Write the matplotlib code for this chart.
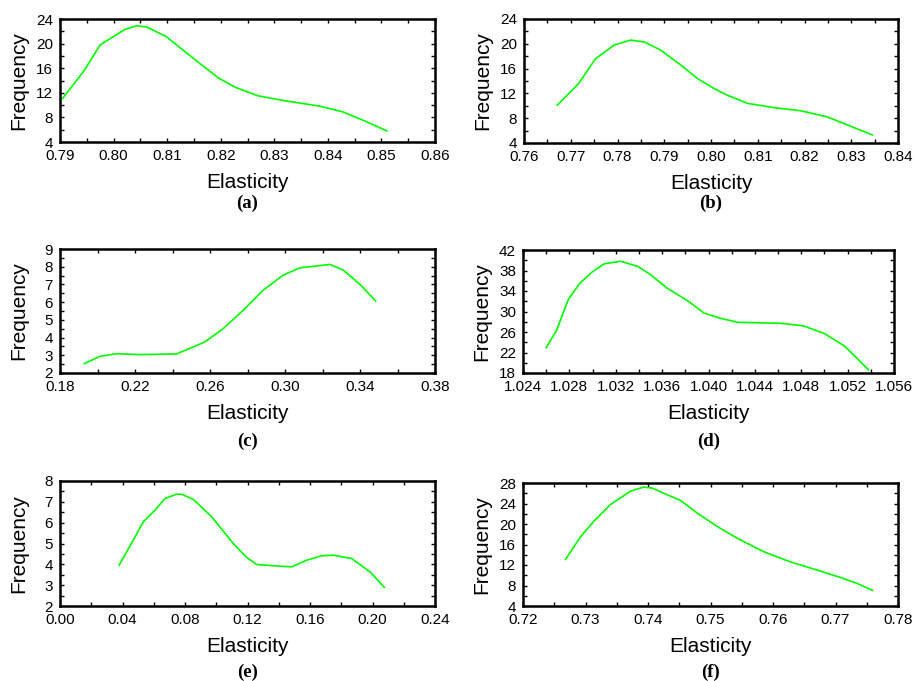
import matplotlib
matplotlib.use("Agg")
import matplotlib.pyplot as plt
from matplotlib.ticker import AutoMinorLocator

plt.rcParams['font.family'] = ['Liberation Sans', 'DejaVu Sans']

# (a)
a_x = [0.7905, 0.7945, 0.7975, 0.8021, 0.8043, 0.8062, 0.8099, 0.8133, 0.8165, 0.8196,
       0.8227, 0.8270, 0.8320, 0.8384, 0.8428, 0.8472, 0.8510]
a_y = [11.1, 15.6, 19.8, 22.3, 22.9, 22.7, 21.1, 18.7, 16.5, 14.4,
       12.9, 11.5, 10.7, 9.85, 8.9, 7.3, 5.8]
# (b)
b_x = [0.7671, 0.7717, 0.7753, 0.7793, 0.7828, 0.7857, 0.7892, 0.7935, 0.7971, 0.8006,
       0.8035, 0.8078, 0.8135, 0.8192, 0.8249, 0.8299, 0.8345]
b_y = [10.1, 13.6, 17.6, 19.8, 20.6, 20.3, 19.0, 16.6, 14.4, 12.8,
       11.7, 10.4, 9.7, 9.2, 8.2, 6.7, 5.3]
# (c)
c_x = [0.193, 0.2013, 0.2102, 0.2227, 0.2333, 0.2422, 0.2511, 0.2573, 0.2671, 0.2778,
       0.2884, 0.2991, 0.308, 0.3133, 0.324, 0.3311, 0.340, 0.3484]
c_y = [2.53, 2.94, 3.09, 3.04, 3.06, 3.08, 3.47, 3.76, 4.51, 5.55,
       6.68, 7.53, 7.94, 8.0, 8.13, 7.81, 7.0, 6.06]
# (d)
d_x = [1.0260, 1.0269, 1.0279, 1.0289, 1.0299, 1.0310, 1.0324, 1.0339, 1.0350, 1.0364,
       1.0382, 1.0396, 1.0410, 1.0425, 1.0442, 1.0462, 1.0482, 1.0500, 1.0517, 1.0528, 1.0538]
d_y = [22.96, 26.35, 32.3, 35.5, 37.6, 39.3, 39.8, 38.8, 37.2, 34.6,
       32.1, 29.7, 28.7, 27.9, 27.8, 27.7, 27.2, 25.7, 23.3, 20.9, 18.6]
# (e)
e_x = [0.0378, 0.0469, 0.0533, 0.0608, 0.0672, 0.0747, 0.0779, 0.0853, 0.0971, 0.1109,
       0.1195, 0.1259, 0.1387, 0.1483, 0.1579, 0.1675, 0.1749, 0.1866, 0.1984, 0.2075]
e_y = [3.96, 5.16, 6.04, 6.6, 7.16, 7.37, 7.36, 7.12, 6.28, 5.0,
       4.33, 3.99, 3.92, 3.88, 4.2, 4.41, 4.44, 4.28, 3.64, 2.9]
# (f)
f_x = [0.7268, 0.7292, 0.7313, 0.7340, 0.7372, 0.7393, 0.7407, 0.7425, 0.7452, 0.7479,
       0.7511, 0.7543, 0.7585, 0.7628, 0.7671, 0.7708, 0.7735, 0.7759]
f_y = [13.09, 17.5, 20.5, 23.8, 26.4, 27.2, 27.0, 26.0, 24.6, 22.1,
       19.5, 17.2, 14.6, 12.6, 11.0, 9.56, 8.38, 7.07]

# 눈금 값
a_xt = [0.79, 0.80, 0.81, 0.82, 0.83, 0.84, 0.85, 0.86]
a_yt = [4, 8, 12, 16, 20, 24]
b_xt = [0.76, 0.77, 0.78, 0.79, 0.80, 0.81, 0.82, 0.83, 0.84]
b_yt = [4, 8, 12, 16, 20, 24]
c_xt = [0.18, 0.22, 0.26, 0.30, 0.34, 0.38]
c_yt = [2, 3, 4, 5, 6, 7, 8, 9]
d_xt = [1.024, 1.028, 1.032, 1.036, 1.040, 1.044, 1.048, 1.052, 1.056]
d_yt = [18, 22, 26, 30, 34, 38, 42]
e_xt = [0.00, 0.04, 0.08, 0.12, 0.16, 0.20, 0.24]
e_yt = [2, 3, 4, 5, 6, 7, 8]
f_xt = [0.72, 0.73, 0.74, 0.75, 0.76, 0.77, 0.78]
f_yt = [4, 8, 12, 16, 20, 24, 28]

panel_names = ['(a)', '(b)', '(c)', '(d)', '(e)', '(f)']

W, H = 914, 681
fig = plt.figure(figsize=(W / 100, H / 100), dpi=100)

# 각 패널의 축 위치 (픽셀: left, top, right, bottom)
boxes = [(60, 19, 435, 142), (524, 19, 898, 143),
         (60, 249, 435, 373), (523, 250, 894, 373),
         (60, 481, 435, 606), (523, 483, 898, 606)]
label_y = [203, 203, 441, 441, 672, 672]

series = [(a_x, a_y, a_xt, a_yt, '{:.2f}'), (b_x, b_y, b_xt, b_yt, '{:.2f}'),
          (c_x, c_y, c_xt, c_yt, '{:.2f}'), (d_x, d_y, d_xt, d_yt, '{:.3f}'),
          (e_x, e_y, e_xt, e_yt, '{:.2f}'), (f_x, f_y, f_xt, f_yt, '{:.2f}')]

for i, (xs, ys, xt, yt, fmt) in enumerate(series):
    l, t, r, b = boxes[i]
    ax = fig.add_axes([l / W, 1 - b / H, (r - l) / W, (b - t) / H])
    ax.plot(xs, ys, color='#00ff00', lw=1.2)
    ax.set_xlim(xt[0], xt[-1])
    ax.set_ylim(yt[0], yt[-1])
    ax.set_xticks(xt)
    ax.set_xticklabels([fmt.format(v) for v in xt])
    ax.set_yticks(yt)
    ax.xaxis.set_minor_locator(AutoMinorLocator(2))
    ax.yaxis.set_minor_locator(AutoMinorLocator(2))
    ax.tick_params(which='both', direction='in', top=True, right=True,
                   length=3, width=1, labelsize=11, colors='black')
    ax.tick_params(axis='x', pad=5)
    ax.tick_params(axis='y', pad=5)
    for sp in ax.spines.values():
        sp.set_linewidth(1.8)
    ax.set_xlabel('Elasticity', fontsize=15)
    ax.set_ylabel('Frequency', fontsize=15)
    ax.xaxis.set_label_coords(0.5, -31 / (b - t))
    ax.yaxis.set_label_coords(-32 / (r - l), 0.5)
    fig.text((l + r) / 2 / W, 1 - label_y[i] / H, panel_names[i],
             family=['Liberation Serif', 'DejaVu Serif'], fontweight='bold',
             fontsize=13.5, ha='center', va='center')

fig.savefig('out.png', dpi=100)
